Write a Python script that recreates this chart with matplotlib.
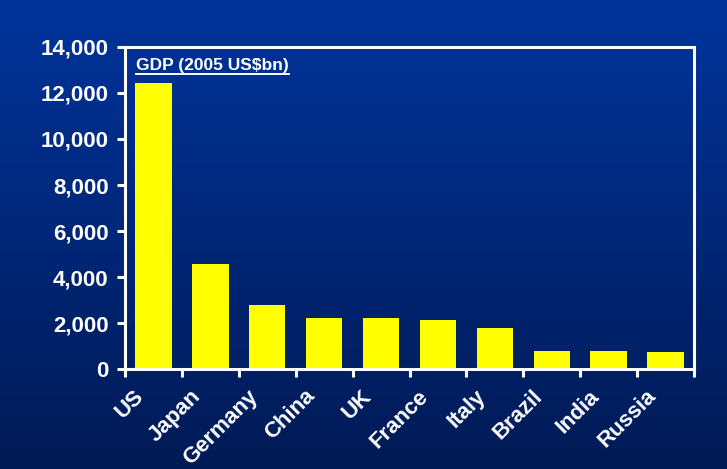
import numpy as np
import matplotlib.pyplot as plt
import matplotlib.transforms as mtransforms
from matplotlib.colors import LinearSegmentedColormap
from matplotlib.lines import Line2D

plt.rcParams['font.family'] = ['Liberation Sans', 'DejaVu Sans']
plt.rcParams['font.weight'] = 'bold'

# data
countries = ['US', 'Japan', 'Germany', 'China', 'UK', 'France', 'Italy', 'Brazil', 'India', 'Russia']
gdp = [12450, 4550, 2800, 2230, 2200, 2120, 1770, 790, 790, 760]
yticks = [0, 2000, 4000, 6000, 8000, 10000, 12000, 14000]

fig = plt.figure(figsize=(7.27, 4.69), dpi=100)

# gradient background
bg = fig.add_axes([0, 0, 1, 1], zorder=-10)
cmap = LinearSegmentedColormap.from_list('bg', ['#00349C', '#001A55'])
bg.imshow(np.linspace(0, 1, 256).reshape(-1, 1), aspect='auto', cmap=cmap,
          extent=[0, 1, 0, 1])
bg.axis('off')

ax = fig.add_axes([0.172, 0.2132, 0.7826, 0.6866])
ax.patch.set_alpha(0)
x = np.arange(len(countries))
ax.bar(x, gdp, width=0.64, color='#FFFF00')

ax.set_xlim(-0.5, len(countries) - 0.5)
ax.set_ylim(0, 14000)

for s in ax.spines.values():
    s.set_color('white')
    s.set_linewidth(2.2)

ax.set_yticks(yticks)
ax.set_yticklabels([f'{v:,}' for v in yticks])
ax.set_xticks(x)
ax.set_xticklabels(countries, rotation=45, ha='right', rotation_mode='anchor')
ax.set_xticks(np.arange(-0.5, len(countries)), minor=True)
ax.tick_params(axis='x', which='major', length=0, pad=12, labelsize=16, labelcolor='white')
ax.tick_params(axis='x', which='minor', length=6, width=2.2, color='white', direction='out')
ax.tick_params(axis='y', length=6, width=2.2, color='white', labelsize=16,
               labelcolor='white', pad=6)

# move the rotated labels left, as in the original
shift = mtransforms.ScaledTranslation(-0.2, 0, fig.dpi_scale_trans)
for lab in ax.get_xticklabels():
    lab.set_transform(lab.get_transform() + shift)

t = ax.text(0.019, 0.965, 'GDP (2005 US$bn)', transform=ax.transAxes, color='white',
            fontsize=12.5, fontweight='bold', va='top', ha='left')
fig.canvas.draw()
bb = t.get_window_extent().transformed(fig.transFigure.inverted())
fig.add_artist(Line2D([bb.x0, bb.x1], [bb.y0 - 0.002, bb.y0 - 0.002], color='white',
                      lw=1.4, transform=fig.transFigure))

fig.savefig('out.png', dpi=100)
